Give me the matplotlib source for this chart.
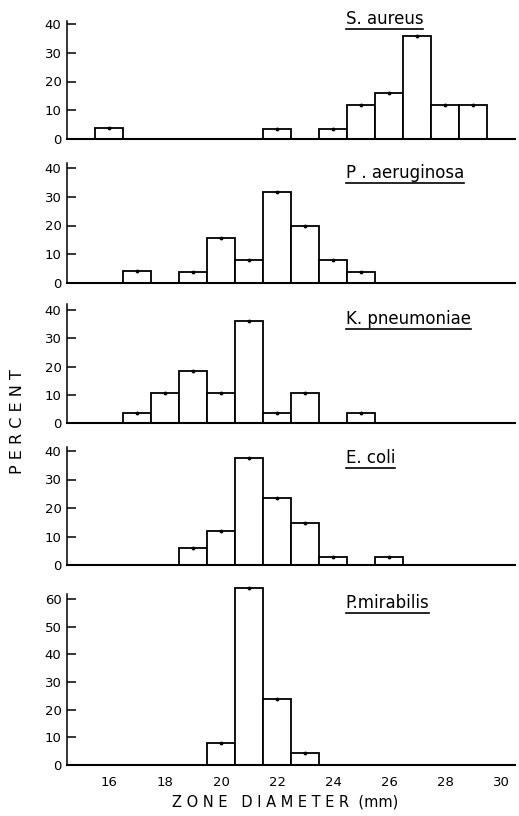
import numpy as np
import matplotlib
matplotlib.use('Agg')
import matplotlib.pyplot as plt
from matplotlib.lines import Line2D

# zone diameter (mm) and percent of isolates, one pair of lists per organism
species = ['S. aureus', 'P . aeruginosa', 'K. pneumoniae', 'E. coli', 'P.mirabilis']

sa_mm = [16, 22, 24, 25, 26, 27, 28, 29]
sa_pct = [4.0, 3.5, 3.5, 12.0, 16.0, 36.0, 12.0, 12.0]

pa_mm = [17, 19, 20, 21, 22, 23, 24, 25]
pa_pct = [4.0, 3.8, 15.7, 7.8, 31.8, 19.7, 7.9, 3.8]

kp_mm = [17, 18, 19, 20, 21, 22, 23, 25]
kp_pct = [3.8, 10.7, 18.5, 10.6, 36.1, 3.7, 10.6, 3.6]

ec_mm = [19, 20, 21, 22, 23, 24, 26]
ec_pct = [6.1, 11.8, 37.4, 23.4, 14.6, 2.9, 2.9]

pm_mm = [20, 21, 22, 23]
pm_pct = [8.0, 64.0, 23.7, 4.1]

all_mm = [sa_mm, pa_mm, kp_mm, ec_mm, pm_mm]
all_pct = [sa_pct, pa_pct, kp_pct, ec_pct, pm_pct]

y_ticks = [[0, 10, 20, 30, 40]] * 4 + [[0, 10, 20, 30, 40, 50, 60]]
x_ticks = [16, 18, 20, 22, 24, 26, 28, 30]

W, H = 519, 816
fig = plt.figure(figsize=(W / 100, H / 100), dpi=100)

# panel layout in pixels: (y pixel of zero line, pixels per unit, ylim top, spine top)
layout = [(139.0, 2.875, 42, 41), (282.7, 2.86, 42, 42), (423.3, 2.83, 42, 42),
          (565.0, 2.85, 42, 41.5), (764.7, 2.757, 66, 62)]
label_y = [41.7, 38.3, 37.0, 37.4, 58.7]
left_px, right_px = 67, 515

axes = []
for i, (zero_px, ppu, ytop, stop) in enumerate(layout):
    h_px = ytop * ppu
    ax = fig.add_axes([left_px / W, (H - zero_px) / H, (right_px - left_px) / W, h_px / H])
    ax.bar(all_mm[i], all_pct[i], width=1.0, color='white', edgecolor='black', linewidth=1.3, zorder=2)
    ax.plot(all_mm[i], all_pct[i], 'k.', ms=3.5, zorder=3)
    ax.set_xlim(14.5, 30.5)
    ax.set_ylim(0, ytop)
    ax.set_yticks(y_ticks[i])
    ax.set_xticks(x_ticks)
    for s in ['top', 'right']:
        ax.spines[s].set_visible(False)
    ax.spines['left'].set_bounds(0, stop)
    ax.spines['left'].set_linewidth(1.1)
    ax.spines['bottom'].set_linewidth(1.5)
    ax.tick_params(axis='y', direction='in', length=6.5, width=1.1, labelsize=9.5, pad=4)
    ax.tick_params(axis='x', length=0, labelsize=9.5, pad=8)
    if i < 4:
        ax.tick_params(axis='x', labelbottom=False)
    ax.text(24.45, label_y[i], species[i], fontsize=12, ha='left', va='center')
    axes.append(ax)

# underline the organism names
fig.canvas.draw()
renderer = fig.canvas.get_renderer()
for ax in axes:
    t = ax.texts[0]
    bb = t.get_window_extent(renderer)
    y = bb.y0 - 1.0
    fig.add_artist(Line2D([bb.x0 / W, bb.x1 / W], [y / H, y / H], color='black', lw=1.2,
                          transform=fig.transFigure))

fig.text(18 / W, 1 - 422 / H, 'P E R C E N T', rotation=90, ha='center', va='center', fontsize=11.5)
fig.text(285 / W, 1 - 802 / H, 'Z O N E   D I A M E T E R  (mm)', ha='center', va='center', fontsize=10.5)

fig.savefig('out.png', dpi=100)
